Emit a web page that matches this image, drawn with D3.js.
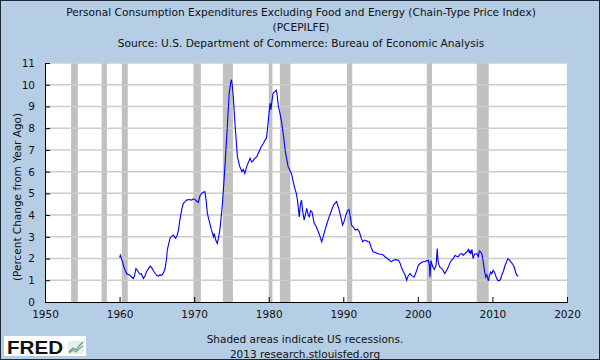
<!DOCTYPE html>
<html><head><meta charset="utf-8">
<script src="https://cdn.jsdelivr.net/npm/d3@7"></script>
<style>html,body{margin:0;padding:0;background:#b5cde5;}svg{display:block;}</style>
</head><body>
<svg id="c" width="600" height="360"></svg>
<script>
const titleLines = ["Personal Consumption Expenditures Excluding Food and Energy (Chain-Type Price Index)", "(PCEPILFE)", "Source: U.S. Department of Commerce: Bureau of Economic Analysis"];
const yLabel = "(Percent Change from Year Ago)";
const footLines = ["Shaded areas indicate US recessions.", "2013 research.stlouisfed.org"];
const xTicks = [1950, 1960, 1970, 1980, 1990, 2000, 2010, 2020];
const yTicks = [0,1,2,3,4,5,6,7,8,9,10,11];
const recessionStart = [1953.5, 1957.6, 1960.3, 1969.9, 1973.85, 1980.0, 1981.5, 1990.5, 2001.2, 2007.9];
const recessionEnd   = [1954.4, 1958.3, 1961.1, 1970.9, 1975.2, 1980.5, 1982.9, 1991.2, 2001.9, 2009.5];
const dates = [1960.0,1960.1,1960.3,1960.6,1960.95,1961.4,1961.6,1961.85,1962.0,1962.2,1962.4,1962.7,1962.9,1963.2,1963.4,1963.6,1963.9,1964.1,1964.3,1964.5,1964.8,1965.0,1965.2,1965.4,1965.65,1965.9,1966.1,1966.3,1966.4,1966.6,1966.8,1967.0,1967.2,1967.5,1967.7,1967.9,1968.05,1968.2,1968.4,1968.55,1968.8,1969.0,1969.3,1969.67,1969.9,1970.1,1970.3,1970.56,1970.8,1971.0,1971.2,1971.45,1971.6,1971.77,1972.1,1972.3,1972.6,1972.7,1972.9,1973.1,1973.3,1973.5,1973.8,1974.1,1974.45,1974.7,1974.9,1975.0,1975.1,1975.25,1975.5,1975.8,1976.1,1976.4,1976.6,1976.8,1977.05,1977.3,1977.5,1977.7,1977.9,1978.1,1978.4,1978.6,1978.8,1979.0,1979.3,1979.5,1979.7,1979.85,1980.0,1980.17,1980.3,1980.45,1980.6,1980.85,1981.0,1981.1,1981.3,1981.5,1981.75,1982.0,1982.2,1982.4,1982.6,1982.8,1983.1,1983.3,1983.5,1983.7,1983.85,1984.1,1984.25,1984.4,1984.55,1984.75,1984.9,1985.1,1985.3,1985.45,1985.6,1985.8,1986.1,1986.4,1986.65,1986.9,1987.1,1987.3,1987.55,1987.8,1988.1,1988.4,1988.7,1988.9,1989.1,1989.35,1989.55,1989.75,1989.9,1990.1,1990.35,1990.55,1990.77,1990.95,1991.1,1991.35,1991.6,1991.9,1992.15,1992.4,1992.6,1992.85,1993.1,1993.3,1993.5,1993.75,1994.0,1994.3,1994.6,1994.9,1995.15,1995.4,1995.6,1995.9,1996.2,1996.45,1996.7,1997.0,1997.4,1997.6,1997.8,1998.05,1998.3,1998.5,1998.7,1998.95,1999.2,1999.5,1999.8,2000.06,2000.3,2000.65,2000.96,2001.2,2001.4,2001.55,2001.63,2001.75,2002.0,2002.2,2002.45,2002.6,2002.7,2002.9,2003.2,2003.4,2003.6,2003.85,2004.1,2004.3,2004.5,2004.75,2005.0,2005.2,2005.4,2005.65,2005.9,2006.1,2006.3,2006.55,2006.8,2006.9,2007.0,2007.1,2007.25,2007.4,2007.6,2007.9,2008.1,2008.25,2008.4,2008.6,2008.8,2008.95,2009.1,2009.25,2009.45,2009.6,2009.76,2009.9,2010.1,2010.3,2010.5,2010.7,2010.9,2011.1,2011.25,2011.5,2011.7,2011.9,2012.06,2012.25,2012.45,2012.7,2012.9,2013.05,2013.16,2013.3,2013.47];
const values = [2.05,2.15,1.95,1.6,1.3,1.23,1.15,1.08,1.2,1.54,1.45,1.28,1.3,1.08,1.2,1.38,1.55,1.65,1.58,1.46,1.3,1.22,1.19,1.25,1.23,1.35,1.54,2.0,2.39,2.7,2.97,3.02,3.08,2.93,3.05,3.31,3.7,4.0,4.35,4.54,4.62,4.69,4.72,4.69,4.75,4.72,4.65,4.59,4.9,5.0,5.05,5.08,4.7,4.08,3.62,3.35,3.0,3.15,2.85,2.69,3.0,3.46,4.54,6.08,8.08,9.62,10.1,10.23,10.0,9.46,8.08,6.69,6.25,6.0,6.1,5.92,6.23,6.45,6.62,6.45,6.5,6.6,6.69,6.85,7.0,7.15,7.31,7.45,7.54,8.0,8.54,9.15,8.85,9.3,9.62,9.69,9.75,9.6,9.0,8.7,8.23,7.6,7.0,6.6,6.23,6.1,5.85,5.5,5.23,5.0,4.69,3.92,4.5,4.69,4.2,3.77,4.0,4.31,4.0,3.92,4.2,4.15,3.62,3.45,3.23,3.0,2.77,3.0,3.31,3.6,3.92,4.2,4.46,4.55,4.62,4.35,4.08,3.8,3.54,3.7,4.0,4.2,4.26,3.9,3.54,3.45,3.31,3.35,3.23,2.95,2.77,2.85,2.82,2.78,2.77,2.5,2.31,2.28,2.23,2.2,2.2,2.15,2.08,2.0,1.92,1.85,1.92,1.95,1.92,1.8,1.59,1.4,1.23,1.0,1.2,1.31,1.2,1.15,1.4,1.69,1.77,1.85,1.85,1.9,1.92,1.7,1.15,1.9,1.62,1.5,1.7,2.46,1.9,1.62,1.54,1.45,1.31,1.45,1.62,1.8,1.92,2.0,2.15,2.1,2.08,2.2,2.23,2.15,2.23,2.3,2.42,2.25,2.38,2.2,2.42,2.0,2.2,2.23,2.08,2.35,2.31,2.2,1.77,1.4,1.15,1.25,0.97,1.2,1.38,1.3,1.46,1.35,1.15,1.0,0.97,1.05,1.23,1.45,1.69,1.85,2.0,1.95,1.85,1.75,1.62,1.45,1.31,1.22,1.19];

const svg = d3.select("#c");
const font = "DejaVu Sans, Verdana, sans-serif";
const L = 45, R = 567, T = 63, B = 302;
const x = d3.scaleLinear().domain([1950, 2020]).range([L, R]);
const y = d3.scaleLinear().domain([0, 11]).range([B, T]);

svg.append("rect").attr("x",0.5).attr("y",0.5).attr("width",599).attr("height",359)
  .attr("fill","#b5cde5").attr("stroke","#1e2a33").attr("stroke-width",1);

svg.append("rect").attr("x",L).attr("y",T).attr("width",R-L).attr("height",B-T).attr("fill","#ffffff");

// recessions
svg.append("g").selectAll("rect").data(recessionStart).join("rect")
  .attr("x", (d)=>x(d)).attr("width",(d,i)=>x(recessionEnd[i])-x(d))
  .attr("y",T).attr("height",B-T).attr("fill","#c0c0c0");

// grid
svg.append("g").selectAll("line").data(yTicks.filter(d=>d>0)).join("line")
  .attr("x1",L).attr("x2",R).attr("y1",d=>y(d)).attr("y2",d=>y(d))
  .attr("stroke","#cccccc").attr("stroke-width",1.5);

// axes
const yAxis = d3.axisLeft(y).tickValues(yTicks).tickSize(-5).tickPadding(10);
const gy = svg.append("g").attr("transform",`translate(${L},0)`).call(yAxis);
const xAxis = d3.axisBottom(x).tickValues(xTicks).tickFormat(d3.format("d")).tickSize(-5).tickPadding(9);
const gx = svg.append("g").attr("transform",`translate(0,${B})`).call(xAxis);
[gx, gy].forEach(g=>{
  g.selectAll("path").attr("stroke","#000").attr("stroke-width",1);
  g.selectAll("line").attr("stroke","#000");
  g.selectAll("text").attr("font-family",font).attr("font-size",10.5).attr("fill","#111");
});

// line
const line = d3.line().x((d,i)=>x(dates[i])).y(d=>y(d));
svg.append("path").datum(values).attr("d",line).attr("fill","none")
  .attr("stroke","#0000ff").attr("stroke-width",1.1);

// titles
svg.append("g").selectAll("text").data(titleLines).join("text")
  .attr("x",301).attr("y",(d,i)=>16+i*15.3).attr("text-anchor","middle")
  .attr("font-family",font).attr("font-size",10.6).attr("fill","#111").text(d=>d);

svg.append("text").attr("transform",`translate(21,197) rotate(-90)`).attr("text-anchor","middle")
  .attr("font-family",font).attr("font-size",10.5).attr("fill","#111").text(yLabel);

svg.append("g").selectAll("text").data(footLines).join("text")
  .attr("x",305).attr("y",(d,i)=>343+i*15).attr("text-anchor","middle")
  .attr("font-family",font).attr("font-size",10.5).attr("fill","#111").text(d=>d);

// FRED logo
const logo = svg.append("g");
logo.append("rect").attr("x",4).attr("y",336).attr("width",82).attr("height",20).attr("fill","#ffffff");
logo.append("text").attr("x",7).attr("y",353.5).attr("font-family","Liberation Sans, Arial, sans-serif")
  .attr("font-weight","bold").attr("font-size",17.5).attr("textLength",56).attr("lengthAdjust","spacingAndGlyphs")
  .attr("fill","#111").text("FRED");
logo.append("rect").attr("x",68).attr("y",341).attr("width",16).attr("height",13).attr("fill","#e8eef0");
logo.append("path").attr("d","M69,352 L73,348 L76,350 L80,345 L83,342").attr("fill","none").attr("stroke","#5a8fc0").attr("stroke-width",1.2);
logo.append("path").attr("d","M69,353 L73,350 L76,352 L80,348 L83,346").attr("fill","none").attr("stroke","#7cb342").attr("stroke-width",1.2);
</script>
</body></html>
